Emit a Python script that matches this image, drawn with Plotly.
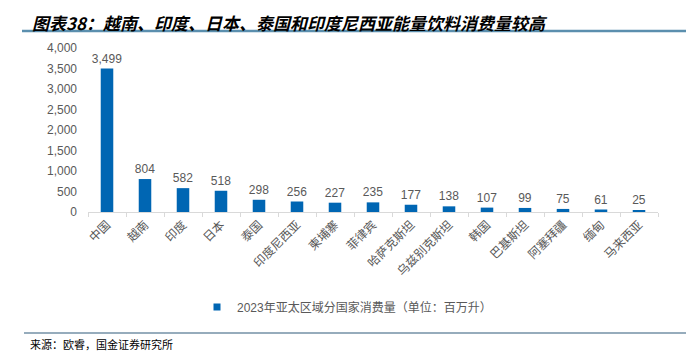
import plotly.graph_objects as go

categories = ["中国", "越南", "印度", "日本", "泰国", "印度尼西亚", "柬埔寨", "菲律宾",
              "哈萨克斯坦", "乌兹别克斯坦", "韩国", "巴基斯坦", "阿塞拜疆", "缅甸", "马来西亚"]
values = [3499, 804, 582, 518, 298, 256, 227, 235, 177, 138, 107, 99, 75, 61, 25]
series_name = "2023年亚太区域分国家消费量（单位：百万升）"
title_text = "图表38：越南、印度、日本、泰国和印度尼西亚能量饮料消费量较高"
source_text = "来源：欧睿，国金证券研究所"

# the page body has an 8px default margin; work in reference pixel coords and offset
OFF = 8
W, H = 694 - OFF, 363 - OFF
L, T = 88 - OFF, 48 - OFF
R = W - (658 - OFF)
B = H - (212 - OFF)
pw, ph = W - L - R, H - T - B

def px_x(x):
    return (x - OFF - L) / pw

def px_y(y):
    return (H - B - (y - OFF)) / ph

FONT = "Liberation Sans, Noto Sans CJK SC, sans-serif"
GRAY = "#595959"
BLUE = "#0066B3"

fig = go.Figure()
fig.add_trace(go.Bar(
    x=categories, y=values, name=series_name, showlegend=False,
    marker=dict(color=BLUE, line=dict(width=0)),
    width=0.33,
    texttemplate="%{y:,}", textposition="outside", constraintext="none",
    textfont=dict(family=FONT, size=12, color=GRAY),
    cliponaxis=False,
))
# legend entry (small square marker like the reference)
fig.add_trace(go.Scatter(
    x=[None], y=[None], mode="markers", name=series_name,
    marker=dict(symbol="square", size=7, color=BLUE),
    showlegend=True,
))

fig.update_layout(
    width=W, height=H,
    margin=dict(l=L, r=R, t=T, b=B, autoexpand=False),
    paper_bgcolor="white", plot_bgcolor="white",
    font=dict(family=FONT, size=12, color=GRAY),
    showlegend=True,
    legend=dict(orientation="h", x=px_x(197), y=px_y(307), xanchor="left", yanchor="middle",
                font=dict(family=FONT, size=12, color=GRAY), itemwidth=30,
                bgcolor="rgba(0,0,0,0)"),
    bargap=0.67,
)
fig.update_xaxes(
    automargin=False,
    showline=True, linecolor="#D9D9D9", linewidth=1,
    ticks="outside", tickson="boundaries", ticklen=4, tickcolor="#D9D9D9",
    tickangle=-45, tickfont=dict(family="Noto Sans CJK SC", size=12, color=GRAY),
    showgrid=False,
)
fig.update_yaxes(
    automargin=False,
    range=[0, 4000], dtick=500, tickformat=",",
    showgrid=False, zeroline=False, showline=False,
    tickfont=dict(family=FONT, size=12, color=GRAY),
    ticklabelstandoff=10,
)

# title (anchored to the very top of the figure so it is not clipped)
fig.add_annotation(
    xref="paper", yref="paper", x=px_x(30), y=px_y(OFF), xanchor="left", yanchor="top",
    text="<b><i>" + title_text + "</i></b>", showarrow=False,
    font=dict(family="Noto Sans CJK SC", size=17, color="#000000"),
)
fig.add_shape(type="line", xref="paper", yref="paper",
              x0=px_x(22), x1=px_x(687), y0=px_y(31), y1=px_y(31),
              line=dict(color="#5B8FAE", width=2.5))
fig.add_shape(type="line", xref="paper", yref="paper",
              x0=px_x(24), x1=px_x(687), y0=px_y(333), y1=px_y(333),
              line=dict(color="#2E5A7A", width=1.2))
fig.add_annotation(
    xref="paper", yref="paper", x=px_x(28), y=px_y(344), xanchor="left", yanchor="middle",
    text=source_text, showarrow=False,
    font=dict(family="Noto Sans CJK SC", size=11, color="#000000"),
)

fig.write_html("out.html")
